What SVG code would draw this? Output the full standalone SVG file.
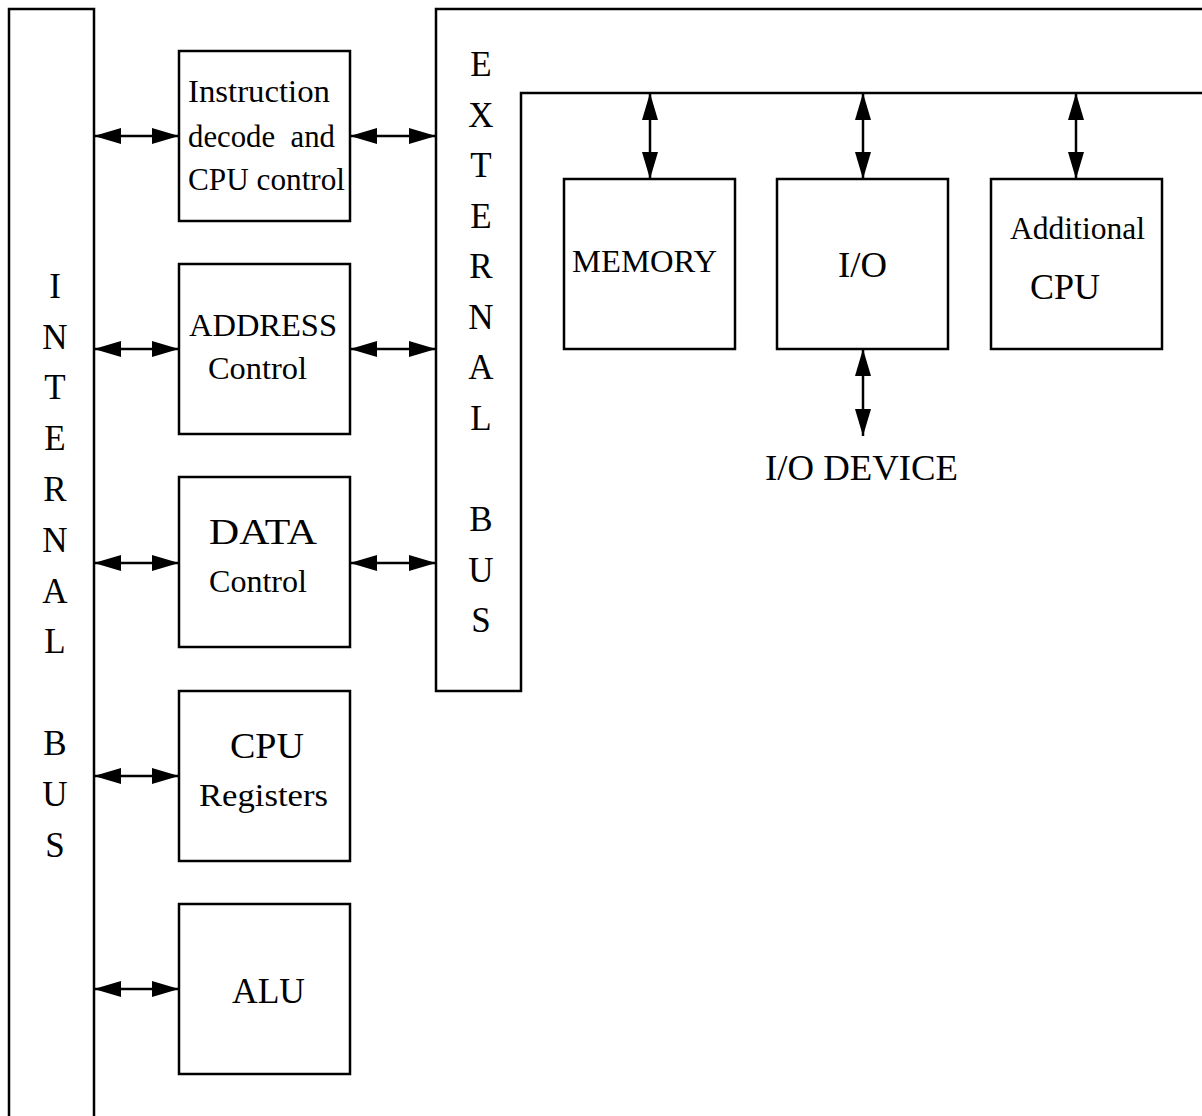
<svg xmlns="http://www.w3.org/2000/svg" width="1202" height="1116" viewBox="0 0 1202 1116">
<style>
.ln{fill:none;stroke:#000;stroke-width:2.5}
.bx{fill:#fff;stroke:#000;stroke-width:2.5}
.ar{fill:none;stroke:#000;stroke-width:2.5;marker-start:url(#ah);marker-end:url(#ah)}
text{font-family:"Liberation Serif","Times New Roman",serif;fill:#000}
.vl{font-size:35px;text-anchor:middle}
</style>
<defs>
<marker id="ah" viewBox="0 0 27 16" refX="27" refY="8" markerWidth="27" markerHeight="16" markerUnits="userSpaceOnUse" orient="auto-start-reverse">
<path d="M0,0 L27,8 L0,16 z" fill="#000"/>
</marker>
</defs>
<rect width="1202" height="1116" fill="#fff"/>

<g id="internal-bus">
<path class="ln" d="M9,1116 V9 H94 V1116"/>
<text class="vl" x="55" y="298">I</text>
<text class="vl" x="55" y="349">N</text>
<text class="vl" x="55" y="399">T</text>
<text class="vl" x="55" y="450">E</text>
<text class="vl" x="55" y="501">R</text>
<text class="vl" x="55" y="552">N</text>
<text class="vl" x="55" y="603">A</text>
<text class="vl" x="55" y="653">L</text>
<text class="vl" x="55" y="755">B</text>
<text class="vl" x="55" y="806">U</text>
<text class="vl" x="55" y="857">S</text>
</g>

<g id="external-bus">
<path class="ln" d="M1202,9 H436 V691 H521 V93 H1202"/>
<text class="vl" x="481" y="76">E</text>
<text class="vl" x="481" y="127">X</text>
<text class="vl" x="481" y="177">T</text>
<text class="vl" x="481" y="228">E</text>
<text class="vl" x="481" y="278">R</text>
<text class="vl" x="481" y="329">N</text>
<text class="vl" x="481" y="379">A</text>
<text class="vl" x="481" y="430">L</text>
<text class="vl" x="481" y="531">B</text>
<text class="vl" x="481" y="582">U</text>
<text class="vl" x="481" y="632">S</text>
</g>

<g id="instruction-decode">
<rect class="bx" x="179" y="51" width="171" height="170"/>
<text x="188" y="102" font-size="32" textLength="142" lengthAdjust="spacingAndGlyphs">Instruction</text>
<text x="188" y="147" font-size="32" textLength="147" lengthAdjust="spacingAndGlyphs" xml:space="preserve">decode  and</text>
<text x="188" y="190" font-size="32" textLength="157" lengthAdjust="spacingAndGlyphs">CPU control</text>
</g>

<g id="address-control">
<rect class="bx" x="179" y="264" width="171" height="170"/>
<text x="189" y="336" font-size="31" textLength="148" lengthAdjust="spacingAndGlyphs">ADDRESS</text>
<text x="208" y="379" font-size="31" textLength="99" lengthAdjust="spacingAndGlyphs">Control</text>
</g>

<g id="data-control">
<rect class="bx" x="179" y="477" width="171" height="170"/>
<text x="209" y="544" font-size="35" textLength="108" lengthAdjust="spacingAndGlyphs">DATA</text>
<text x="209" y="592" font-size="31" textLength="98" lengthAdjust="spacingAndGlyphs">Control</text>
</g>

<g id="cpu-registers">
<rect class="bx" x="179" y="691" width="171" height="170"/>
<text x="230" y="758" font-size="36" textLength="74" lengthAdjust="spacingAndGlyphs">CPU</text>
<text x="199" y="806" font-size="31" textLength="129" lengthAdjust="spacingAndGlyphs">Registers</text>
</g>

<g id="alu">
<rect class="bx" x="179" y="904" width="171" height="170"/>
<text x="232" y="1003" font-size="36" textLength="73" lengthAdjust="spacingAndGlyphs">ALU</text>
</g>

<g id="memory">
<rect class="bx" x="564" y="179" width="171" height="170"/>
<text x="572" y="272" font-size="31" textLength="145" lengthAdjust="spacingAndGlyphs">MEMORY</text>
</g>

<g id="io">
<rect class="bx" x="777" y="179" width="171" height="170"/>
<text x="838" y="277" font-size="36" textLength="49" lengthAdjust="spacingAndGlyphs">I/O</text>
</g>

<g id="additional-cpu">
<rect class="bx" x="991" y="179" width="171" height="170"/>
<text x="1010" y="239" font-size="31" textLength="135" lengthAdjust="spacingAndGlyphs">Additional</text>
<text x="1030" y="299" font-size="36" textLength="70" lengthAdjust="spacingAndGlyphs">CPU</text>
</g>

<g id="io-device">
<text x="765" y="480" font-size="36" textLength="193" lengthAdjust="spacingAndGlyphs">I/O DEVICE</text>
</g>

<g id="connectors">
<line class="ar" x1="94" y1="136" x2="179" y2="136"/>
<line class="ar" x1="350" y1="136" x2="436" y2="136"/>
<line class="ar" x1="94" y1="349" x2="179" y2="349"/>
<line class="ar" x1="350" y1="349" x2="436" y2="349"/>
<line class="ar" x1="94" y1="563" x2="179" y2="563"/>
<line class="ar" x1="350" y1="563" x2="436" y2="563"/>
<line class="ar" x1="94" y1="776" x2="179" y2="776"/>
<line class="ar" x1="94" y1="989" x2="179" y2="989"/>
<line class="ar" x1="650" y1="93" x2="650" y2="179"/>
<line class="ar" x1="863" y1="93" x2="863" y2="179"/>
<line class="ar" x1="1076" y1="93" x2="1076" y2="179"/>
<line class="ar" x1="863" y1="349" x2="863" y2="436"/>
</g>
</svg>
